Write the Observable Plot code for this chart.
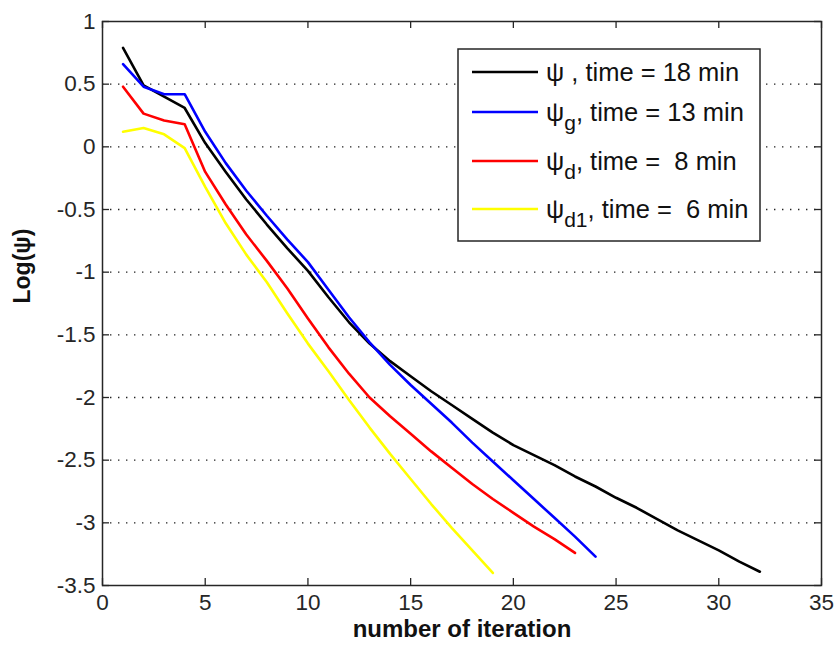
<!DOCTYPE html>
<html>
<head>
<meta charset="utf-8">
<script src="https://cdn.jsdelivr.net/npm/d3@7"></script>
<script src="https://cdn.jsdelivr.net/npm/@observablehq/plot@0.6"></script>
<style>
  body { margin: 0; background: #fff; }
  #chart { width: 837px; height: 649px; }
  text { white-space: pre; }
</style>
</head>
<body>
<div id="chart"></div>
<script>
// ---- data ----
const iterations = [1,2,3,4,5,6,7,8,9,10,11,12,13,14,15,16,17,18,19,20,21,22,23,24,25,26,27,28,29,30,31,32];
const psi   = [0.79,0.49,0.40,0.31,0.03,-0.20,-0.42,-0.62,-0.81,-0.99,-1.20,-1.40,-1.57,-1.71,-1.83,-1.95,-2.06,-2.17,-2.28,-2.38,-2.46,-2.54,-2.63,-2.71,-2.80,-2.88,-2.97,-3.06,-3.14,-3.22,-3.31,-3.39];
const psiG  = [0.66,0.48,0.42,0.42,0.12,-0.13,-0.35,-0.55,-0.74,-0.92,-1.14,-1.36,-1.56,-1.74,-1.90,-2.05,-2.20,-2.36,-2.51,-2.66,-2.81,-2.96,-3.11,-3.27];
const psiD  = [0.48,0.265,0.21,0.18,-0.20,-0.46,-0.70,-0.91,-1.13,-1.37,-1.60,-1.81,-2.00,-2.15,-2.29,-2.43,-2.56,-2.69,-2.81,-2.92,-3.03,-3.13,-3.24];
const psiD1 = [0.12,0.15,0.10,-0.01,-0.32,-0.61,-0.86,-1.08,-1.33,-1.57,-1.79,-2.02,-2.24,-2.45,-2.65,-2.85,-3.04,-3.22,-3.40];

const seriesValues = [psi, psiG, psiD, psiD1];
const seriesColors = ["#000000", "#0000ff", "#ff0000", "#ffff00"];
const legendSub    = ["", "g", "d", "d1"];
const legendRest   = [" , time = 18 min", ", time = 13 min", ", time =  8 min", ", time =  6 min"];

const xTicks = [0,5,10,15,20,25,30,35];
const yTicks = [1,0.5,0,-0.5,-1,-1.5,-2,-2.5,-3,-3.5];
const gridTicks = [0.5,0,-0.5,-1,-1.5,-2,-2.5,-3];
const xLabel = "number of iteration";
const yLabel = "Log(ψ)";

// ---- layout ----
const W = 837, H = 649, ML = 102, MR = 16, MT = 21, MB = 64;
const innerW = W - ML - MR, innerH = H - MT - MB;
const tickLen = 7;
const axisColor = "#262626";
const font = '"Liberation Sans", Arial, sans-serif';

const rowsFor = (vals) => vals.map((v, i) => ({x: iterations[i], y: v}));

const chart = Plot.plot({
  width: W, height: H,
  marginLeft: ML, marginRight: MR, marginTop: MT, marginBottom: MB,
  style: {fontFamily: font, fontSize: "22.5px", color: axisColor, background: "#fff"},
  x: {domain: [0, 35]},
  y: {domain: [-3.5, 1]},
  marks: [
    Plot.ruleY(gridTicks, {y: d => d, stroke: "#222", strokeDasharray: "1.4,6.6", strokeWidth: 1.3}),
    ...seriesValues.map((vals, i) =>
      Plot.line(rowsFor(vals), {x: "x", y: "y", stroke: seriesColors[i], strokeWidth: 2.6, strokeLinejoin: "round"})),
    Plot.frame({stroke: axisColor, strokeWidth: 1.5}),
    Plot.tickX(xTicks, {x: d => d, insetTop: innerH - tickLen, stroke: axisColor, strokeWidth: 1.3}),
    Plot.tickX(xTicks, {x: d => d, insetBottom: innerH - tickLen, stroke: axisColor, strokeWidth: 1.3}),
    Plot.tickY(yTicks, {y: d => d, insetRight: innerW - tickLen, stroke: axisColor, strokeWidth: 1.3}),
    Plot.tickY(yTicks, {y: d => d, insetLeft: innerW - tickLen, stroke: axisColor, strokeWidth: 1.3}),
    Plot.axisX(xTicks, {tickSize: 0, tickPadding: 9, label: null, tickFormat: d => String(d)}),
    Plot.axisY(yTicks, {tickSize: 0, tickPadding: 7, label: null, tickFormat: d => String(d)}),
    Plot.text([xLabel], {text: d => d, frameAnchor: "bottom", dy: 51, fontWeight: "bold", fontSize: 24, fill: "#111"}),
    Plot.text([yLabel], {text: d => d, frameAnchor: "left", dx: -80, rotate: -90, fontWeight: "bold", fontSize: 23, fill: "#111"})
  ]
});

// ---- legend (inside the axes, top right) ----
const svg = d3.select(chart);
const lg = svg.append("g").attr("font-family", font).attr("font-size", 25.5).attr("fill", "#111")
  .attr("text-anchor", "start");
const box = {x: 458, y: 49, w: 302, h: 192};
lg.append("rect").attr("x", box.x).attr("y", box.y).attr("width", box.w).attr("height", box.h)
  .attr("fill", "#fff").attr("stroke", axisColor).attr("stroke-width", 1.5);
const rowY = [72, 112, 161, 209];
seriesColors.forEach((c, i) => {
  lg.append("line").attr("x1", 472).attr("x2", 538).attr("y1", rowY[i]).attr("y2", rowY[i])
    .attr("stroke", c).attr("stroke-width", 2.6);
  const t = lg.append("text").attr("x", 546).attr("y", rowY[i] + 9).attr("text-anchor", "start");
  t.append("tspan").text("ψ");
  if (legendSub[i]) {
    t.append("tspan").attr("dy", 9).attr("font-size", 21).text(legendSub[i]);
    t.append("tspan").attr("dy", -9).text(legendRest[i]);
  } else {
    t.append("tspan").text(legendRest[i]);
  }
});

document.getElementById("chart").appendChild(chart);
</script>
</body>
</html>
